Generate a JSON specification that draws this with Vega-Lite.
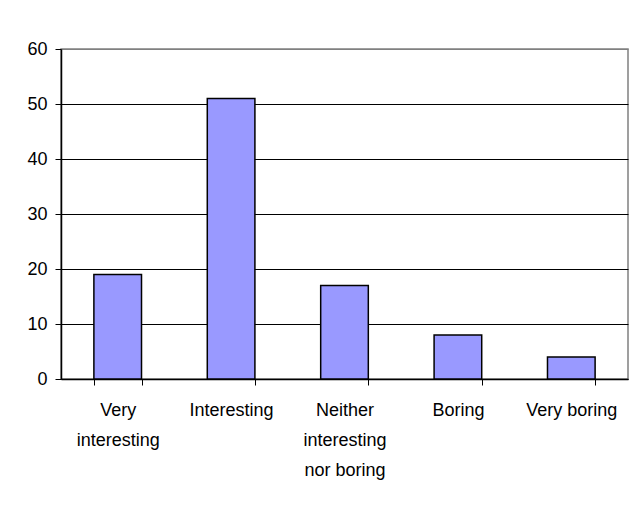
{
  "$schema": "https://vega.github.io/schema/vega-lite/v6.json",
  "width": 567,
  "height": 330,
  "autosize": {"type": "none"},
  "padding": {"left": 61, "top": 49, "right": 7, "bottom": 129},
  "background": "white",
  "data": {
    "values": [
      {"category": "Very interesting", "count": 19},
      {"category": "Interesting", "count": 51},
      {"category": "Neither interesting nor boring", "count": 17},
      {"category": "Boring", "count": 8},
      {"category": "Very boring", "count": 4}
    ]
  },
  "config": {
    "font": "Liberation Sans",
    "view": {"stroke": "#808080", "strokeWidth": 1.5}
  },
  "mark": {"type": "bar", "fill": "#9999FF", "stroke": "black", "strokeWidth": 1.5},
  "encoding": {
    "x": {
      "field": "category",
      "type": "nominal",
      "sort": null,
      "scale": {"paddingInner": 0.58, "paddingOuter": 0.29},
      "axis": {
        "title": null,
        "labelAngle": 0,
        "labelFontSize": 18,
        "labelColor": "black",
        "labelLineHeight": 30,
        "labelPadding": 16,
        "labelLimit": 200,
        "tickBand": "extent",
        "tickColor": "black",
        "tickSize": 6,
        "domainColor": "black",
        "domainWidth": 1.5,
        "labelExpr": "datum.label == 'Very interesting' ? ['Very', 'interesting'] : datum.label == 'Neither interesting nor boring' ? ['Neither', 'interesting', 'nor boring'] : datum.label"
      }
    },
    "y": {
      "field": "count",
      "type": "quantitative",
      "scale": {"domain": [0, 60]},
      "axis": {
        "title": null,
        "values": [0, 10, 20, 30, 40, 50, 60],
        "labelFontSize": 18,
        "labelColor": "black",
        "labelPadding": 8,
        "tickColor": "black",
        "tickSize": 6,
        "domainColor": "black",
        "domainWidth": 1.5,
        "gridColor": {"condition": {"test": "datum.value == 60", "value": "#808080"}, "value": "black"},
        "gridWidth": 1
      }
    }
  }
}
